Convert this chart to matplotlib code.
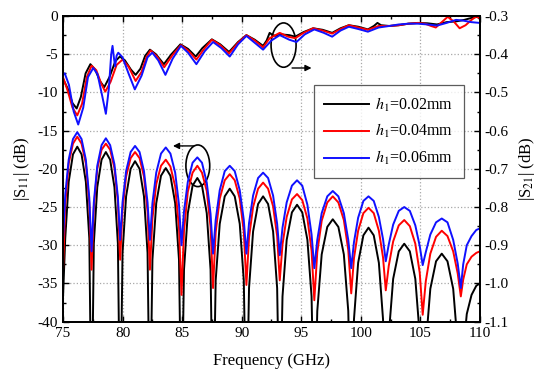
import matplotlib
matplotlib.use("Agg")
import matplotlib.pyplot as plt
from matplotlib.patches import Ellipse
from matplotlib.ticker import MultipleLocator

plt.rcParams['font.family'] = 'Liberation Serif'
plt.rcParams['mathtext.fontset'] = 'stix'
plt.rcParams['axes.unicode_minus'] = False

# |S11| (left axis, dB)
freq_s11 = [75.0, 75.19, 75.48, 75.84, 76.2, 76.56, 76.92, 77.21,
            77.4, 77.59, 77.88, 78.24, 78.6, 78.96, 79.32, 79.61,
            79.8, 80.0, 80.3, 80.68, 81.05, 81.43, 81.8, 82.1,
            82.3, 82.51, 82.83, 83.23, 83.63, 84.02, 84.42, 84.74,
            84.95, 85.16, 85.48, 85.88, 86.28, 86.67, 87.07, 87.39,
            87.6, 87.82, 88.16, 88.58, 89.0, 89.42, 89.84, 90.18,
            90.4, 90.62, 90.96, 91.38, 91.8, 92.22, 92.64, 92.98,
            93.2, 93.43, 93.78, 94.22, 94.65, 95.09, 95.52, 95.87,
            96.1, 96.35, 96.72, 97.19, 97.65, 98.12, 98.58, 98.95,
            99.2, 99.43, 99.78, 100.22, 100.65, 101.09, 101.52, 101.87,
            102.1, 102.35, 102.72, 103.19, 103.65, 104.12, 104.58, 104.95,
            105.2, 105.46, 105.84, 106.32, 106.8, 107.28, 107.76, 108.14,
            108.4, 108.6, 108.9, 109.3, 109.7, 110.0]

s11_002 = [-37, -29.1, -21.7, -18.1, -17.1, -18.1, -21.7, -29.1,
           -55, -29.8, -22.4, -18.8, -17.8, -18.8, -22.4, -29.8,
           -55, -31.0, -23.6, -20.0, -19.0, -20.0, -23.6, -31.0,
           -55, -31.9, -24.5, -20.9, -19.9, -20.9, -24.5, -31.9,
           -55, -33.2, -25.8, -22.2, -21.2, -22.2, -25.8, -33.2,
           -55, -34.6, -27.2, -23.6, -22.6, -23.6, -27.2, -34.6,
           -55, -35.6, -28.2, -24.6, -23.6, -24.6, -28.2, -35.6,
           -55, -36.7, -29.3, -25.7, -24.7, -25.7, -29.3, -36.7,
           -55, -38.6, -31.2, -27.6, -26.6, -27.6, -31.2, -38.6,
           -55, -39.7, -32.3, -28.7, -27.7, -28.7, -32.3, -39.7,
           -55, -41.8, -34.4, -30.8, -29.8, -30.8, -34.4, -41.8,
           -55, -43.1, -35.7, -32.1, -31.1, -32.1, -35.7, -43.1,
           -55, -44, -39, -36.5, -35.3, -35.0]

s11_004 = [-33.5, -24.7, -19.3, -16.7, -15.8, -16.7, -19.3, -24.5,
           -33.2, -25.0, -20.0, -17.5, -16.7, -17.5, -19.9, -24.3,
           -31.9, -25.4, -21.0, -18.6, -17.8, -18.6, -21.0, -25.6,
           -33.2, -26.5, -22.0, -19.6, -18.8, -19.7, -22.3, -27.7,
           -36.5, -28.1, -23.0, -20.5, -19.6, -20.5, -22.9, -27.6,
           -35.6, -28.3, -23.9, -21.5, -20.7, -21.5, -23.9, -28.2,
           -35.2, -29.0, -25.0, -22.6, -21.8, -22.6, -24.9, -28.8,
           -34.6, -29.9, -26.3, -24.0, -23.3, -24.1, -26.5, -30.7,
           -37.2, -30.9, -26.8, -24.4, -23.6, -24.4, -26.7, -30.6,
           -36.3, -31.7, -28.1, -25.8, -25.1, -25.8, -28.1, -31.6,
           -35.9, -32.7, -29.5, -27.4, -26.7, -27.5, -29.8, -33.6,
           -39.1, -34.7, -31.1, -28.9, -28.1, -28.8, -30.8, -33.7,
           -36.7, -34.5, -32.5, -31.5, -31.0, -30.8]

s11_006 = [-29.5, -23.4, -18.8, -16.1, -15.2, -16.1, -18.8, -23.8,
           -30.8, -24.4, -19.6, -16.9, -16.0, -16.9, -19.4, -23.7,
           -29.3, -24.4, -20.3, -17.8, -17.0, -17.8, -20.3, -24.4,
           -29.3, -24.5, -20.5, -18.0, -17.2, -18.0, -20.5, -24.7,
           -30.0, -25.6, -21.7, -19.2, -18.5, -19.2, -21.8, -25.9,
           -31.1, -26.7, -22.8, -20.3, -19.6, -20.3, -22.8, -26.7,
           -31.1, -27.1, -23.5, -21.2, -20.5, -21.2, -23.5, -27.2,
           -31.3, -27.7, -24.4, -22.2, -21.5, -22.2, -24.7, -28.6,
           -33.0, -29.3, -25.8, -23.6, -22.9, -23.6, -25.8, -29.3,
           -33.0, -29.6, -26.4, -24.2, -23.6, -24.2, -26.3, -29.2,
           -32.1, -29.9, -27.3, -25.5, -25.0, -25.5, -27.4, -30.1,
           -32.6, -30.9, -28.6, -27.0, -26.5, -27.0, -29.3, -32.4,
           -35.6, -32.5, -30.0, -28.8, -28.0, -27.8]

# |S21| (right axis, dB)
freq_s21_002 = [75.0, 75.4, 75.8, 76.15, 76.5, 76.9, 77.3, 77.7, 78.1, 78.47,
                78.9, 79.4, 79.78, 80.2, 80.7, 81.1, 81.5, 81.9, 82.3, 82.8,
                83.47, 84.1, 84.86, 85.5, 86.15, 86.7, 87.5, 88.2, 88.94, 89.7,
                90.4, 91.1, 91.8, 92.1, 92.35, 92.6, 92.9, 93.3, 94.0, 94.5,
                95.2, 96.0, 96.8, 97.6, 98.3, 99.0, 99.8, 100.6, 101.1, 101.4,
                101.7, 102.4, 103.2, 104.0, 104.8, 105.6, 106.4, 107.2, 108.0, 108.7,
                109.4, 109.8, 110.0]
s21_002 = [-0.464, -0.49, -0.528, -0.542, -0.512, -0.45, -0.426, -0.44, -0.47, -0.486,
           -0.46, -0.418, -0.406, -0.416, -0.44, -0.454, -0.438, -0.404, -0.388, -0.40,
           -0.426, -0.40, -0.374, -0.386, -0.406, -0.384, -0.361, -0.374, -0.394, -0.368,
           -0.35, -0.362, -0.378, -0.364, -0.344, -0.35, -0.352, -0.348, -0.35, -0.354,
           -0.342, -0.332, -0.336, -0.344, -0.332, -0.324, -0.328, -0.335, -0.326, -0.318,
           -0.324, -0.326, -0.324, -0.32, -0.318, -0.319, -0.322, -0.316, -0.314, -0.31,
           -0.304, -0.302, -0.308]

freq_s21_004 = [75.0, 75.4, 75.8, 76.2, 76.6, 77.0, 77.4, 77.8, 78.2, 78.55,
                79.0, 79.5, 80.0, 80.5, 81.1, 81.6, 82.0, 82.35, 82.9, 83.5,
                84.2, 84.9, 85.5, 86.2, 86.8, 87.5, 88.2, 88.94, 89.7, 90.4,
                91.1, 91.8, 92.35, 93.2, 93.9, 94.5, 95.2, 96.0, 96.8, 97.6,
                98.3, 99.0, 99.8, 100.6, 101.5, 102.4, 103.2, 104.0, 104.8, 105.4,
                105.9, 106.3, 106.8, 107.3, 107.8, 108.3, 108.8, 109.3, 109.7, 110.0]
s21_004 = [-0.46, -0.496, -0.54, -0.56, -0.53, -0.46, -0.43, -0.442, -0.476, -0.498,
           -0.472, -0.428, -0.414, -0.432, -0.47, -0.446, -0.408, -0.39, -0.406, -0.434,
           -0.402, -0.376, -0.39, -0.414, -0.388, -0.362, -0.376, -0.398, -0.37, -0.35,
           -0.364, -0.382, -0.358, -0.344, -0.354, -0.358, -0.344, -0.332, -0.338, -0.346,
           -0.334, -0.324, -0.33, -0.336, -0.326, -0.326, -0.324, -0.32, -0.318, -0.32,
           -0.326, -0.33, -0.316, -0.302, -0.314, -0.332, -0.324, -0.31, -0.301, -0.306]

freq_s21_006 = [75.0, 75.15, 75.5, 75.9, 76.28, 76.7, 77.1, 77.54, 77.9, 78.3,
                78.6, 78.85, 79.05, 79.16, 79.28, 79.38, 79.5, 79.64, 80.0, 80.5,
                81.03, 81.6, 82.1, 82.5, 83.0, 83.6, 84.2, 84.9, 85.5, 86.2,
                86.9, 87.6, 88.3, 89.0, 89.7, 90.4, 91.1, 91.8, 92.5, 93.2,
                94.0, 94.6, 95.3, 96.1, 96.9, 97.6, 98.3, 99.0, 99.8, 100.6,
                101.5, 102.4, 103.2, 104.0, 104.8, 105.6, 106.4, 107.2, 108.0, 108.6,
                109.3, 110.0]
s21_006 = [-0.454, -0.45, -0.48, -0.55, -0.584, -0.54, -0.46, -0.436, -0.452, -0.51,
           -0.556, -0.49, -0.40, -0.378, -0.41, -0.432, -0.404, -0.396, -0.408, -0.45,
           -0.492, -0.456, -0.408, -0.396, -0.416, -0.454, -0.412, -0.378, -0.396, -0.426,
           -0.392, -0.368, -0.384, -0.406, -0.374, -0.352, -0.37, -0.388, -0.364, -0.35,
           -0.362, -0.368, -0.348, -0.335, -0.344, -0.354, -0.338, -0.328, -0.334, -0.341,
           -0.33, -0.326, -0.322, -0.32, -0.32, -0.322, -0.325, -0.318, -0.31, -0.312,
           -0.316, -0.318]

labels = ['$h_1$=0.02mm', '$h_1$=0.04mm', '$h_1$=0.06mm']
colors = ['black', '#ff0000', '#1010ff']

fig = plt.figure(figsize=(5.5, 3.82), dpi=100)
ax = fig.add_axes((0.1145, 0.158, 0.758, 0.800))
ax2 = ax.twinx()

lw = 1.4
lines = []
for f, y, c, lab in zip([freq_s11] * 3, [s11_002, s11_004, s11_006], colors, labels):
    l, = ax.plot(f, y, color=c, lw=lw, label=lab)
    lines.append(l)
for f, y, c in zip([freq_s21_002, freq_s21_004, freq_s21_006],
                   [s21_002, s21_004, s21_006], colors):
    ax2.plot(f, y, color=c, lw=lw)

ax.set_xlim(75, 110)
ax.set_ylim(-40, 0)
ax2.set_ylim(-1.1, -0.3)
ax.xaxis.set_major_locator(MultipleLocator(5))
ax.xaxis.set_minor_locator(MultipleLocator(2.5))
ax.yaxis.set_major_locator(MultipleLocator(5))
ax.yaxis.set_minor_locator(MultipleLocator(2.5))
ax2.yaxis.set_major_locator(MultipleLocator(0.1))
ax2.yaxis.set_minor_locator(MultipleLocator(0.05))
ax2.yaxis.set_major_formatter(plt.FormatStrFormatter('%.1f'))

ax.grid(True, which='major', color='#a8a8a8', linestyle=':', linewidth=0.9)
ax.set_axisbelow(True)

ax.tick_params(which='both', direction='in', top=True, right=False, labelsize=11, width=1)
ax.tick_params(which='major', length=4.5)
ax.tick_params(which='minor', length=2.5)
ax2.tick_params(which='both', direction='in', labelsize=11, width=1)
ax2.tick_params(which='major', length=4.5)
ax2.tick_params(which='minor', length=2.5)
for a in (ax, ax2):
    for s in a.spines.values():
        s.set_linewidth(1.3)

ax.set_xlabel('Frequency (GHz)', fontsize=12, labelpad=10)
ax.set_ylabel('|S$_{11}$| (dB)', fontsize=12, labelpad=4)
ax2.set_ylabel('|S$_{21}$| (dB)', fontsize=12, labelpad=6)

# markers for which curve family belongs to which axis
ax.add_patch(Ellipse((93.52, -3.8), 2.1, 5.8, fill=False, color='black', lw=1.2))
ax.annotate('', xy=(96.1, -6.8), xytext=(94.0, -6.8),
            arrowprops=dict(arrowstyle='-|>', color='black', lw=1.0, mutation_scale=9))
ax.add_patch(Ellipse((86.32, -19.6), 2.0, 5.45, fill=False, color='black', lw=1.2))
ax.annotate('', xy=(84.0, -17.0), xytext=(86.2, -17.0),
            arrowprops=dict(arrowstyle='-|>', color='black', lw=1.0, mutation_scale=9))

leg = ax2.legend(lines, labels, loc='upper left', bbox_to_anchor=(0.602, 0.774),
                 borderaxespad=0, fontsize=11.5, frameon=True, fancybox=False,
                 handlelength=2.8, labelspacing=0.55, borderpad=0.65, handletextpad=0.4)
leg.get_frame().set_edgecolor('#333333')
leg.get_frame().set_linewidth(0.9)

fig.savefig('out.png', dpi=100)
